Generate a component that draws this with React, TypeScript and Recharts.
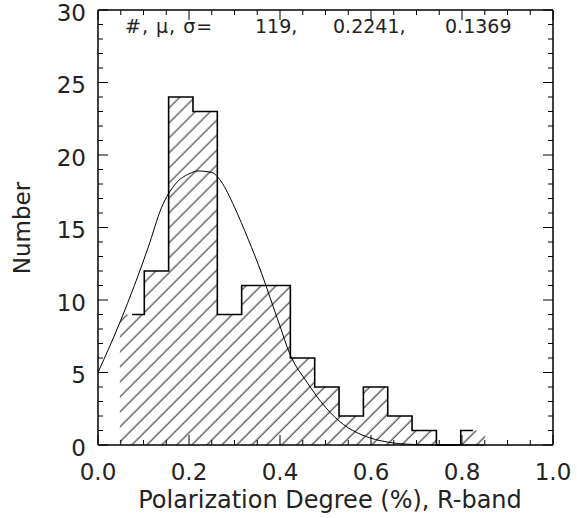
import React from "react";
import { ComposedChart, Area, Line, XAxis, YAxis } from "recharts";

// histogram bins (left edges + final right edge) and counts
const binEdges = [0.048, 0.102, 0.155, 0.209, 0.262, 0.316, 0.369, 0.423, 0.476, 0.53, 0.583, 0.637, 0.69, 0.744, 0.797, 0.851];
const binCounts = [9, 12, 24, 23, 9, 11, 11, 6, 4, 2, 4, 2, 1, 0, 1];

// gaussian fit
const fitX = [0.0, 0.05, 0.08, 0.11, 0.14, 0.17, 0.2, 0.22, 0.25, 0.27, 0.3, 0.33, 0.36, 0.38, 0.4, 0.42, 0.46, 0.5, 0.54, 0.58, 0.62, 0.66, 0.7, 0.75, 0.85];
const fitY = [5.0, 8.6, 11.0, 13.6, 16.4, 18.0, 18.7, 18.9, 18.8, 18.2, 16.4, 14.2, 11.8, 10.0, 8.2, 6.4, 4.3, 2.6, 1.4, 0.7, 0.3, 0.1, 0.03, 0.0, 0.0];

const xTicks = [0, 0.05, 0.1, 0.15, 0.2, 0.25, 0.3, 0.35, 0.4, 0.45, 0.5, 0.55, 0.6, 0.65, 0.7, 0.75, 0.8, 0.85, 0.9, 0.95, 1.0];
const yTicks = [0, 1, 2, 3, 4, 5, 6, 7, 8, 9, 10, 11, 12, 13, 14, 15, 16, 17, 18, 19, 20, 21, 22, 23, 24, 25, 26, 27, 28, 29, 30];

const statLabel = "#, \u03bc, \u03c3=";
const statValues = ["119,", "0.2241,", "0.1369"];

const FONT = "'DejaVu Sans', sans-serif";
const INK = "#222";

const fillData = binEdges.map((e, i) => ({ x: e, n: binCounts[Math.min(i, binCounts.length - 1)] }));
const outlineData = binCounts.map((n, i) => ({ x: (binEdges[i] + binEdges[i + 1]) / 2, n }));
const fitData = fitX.map((x, i) => ({ x, y: fitY[i] }));

const isMajorX = (v: number) => Math.abs(v * 5 - Math.round(v * 5)) < 1e-6;
const isMajorY = (v: number) => v % 5 === 0;

const BottomTick = ({ x, y, payload }: any) => {
  const major = isMajorX(payload.value);
  return (
    <g>
      <line x1={x} x2={x} y1={y} y2={y - (major ? 10 : 5)} stroke="#000" />
      {major && (
        <text x={x} y={y + 35} textAnchor="middle" fontSize={23} fontFamily={FONT} fill={INK}>
          {payload.value.toFixed(1)}
        </text>
      )}
    </g>
  );
};

const TopTick = ({ x, y, payload }: any) => {
  const major = isMajorX(payload.value);
  return <line x1={x} x2={x} y1={y} y2={y + (major ? 10 : 5)} stroke="#000" />;
};

const LeftTick = ({ x, y, payload }: any) => {
  const major = isMajorY(payload.value);
  return (
    <g>
      <line x1={x} x2={x + (major ? 10 : 5)} y1={y} y2={y} stroke="#000" />
      {major && (
        <text x={x - 12} y={y + 4} textAnchor="end" dominantBaseline="middle" fontSize={23} fontFamily={FONT} fill={INK}>
          {payload.value}
        </text>
      )}
    </g>
  );
};

const RightTick = ({ x, y, payload }: any) => {
  const major = isMajorY(payload.value);
  return <line x1={x} x2={x - (major ? 10 : 5)} y1={y} y2={y} stroke="#000" />;
};

export default function App() {
  return (
    <div style={{ position: "absolute", left: 0, top: 0, background: "#fff" }}>
      <ComposedChart width={577} height={518} margin={{ top: 9, right: 23, bottom: 13, left: 38 }}>
        <defs>
          <pattern id="hatch" patternUnits="userSpaceOnUse" width={10.6} height={10.6} patternTransform="rotate(45)">
            <line x1={5} y1={0} x2={5} y2={10.6} stroke="#222" strokeWidth={1} />
          </pattern>
        </defs>

        <XAxis
          xAxisId="bottom"
          type="number"
          dataKey="x"
          domain={[0, 1]}
          ticks={xTicks}
          interval={0}
          height={60}
          tickSize={0}
          tickMargin={0}
          tickLine={false}
          tick={<BottomTick />}
          axisLine={{ stroke: "#000", strokeWidth: 1.5 }}
        />
        <XAxis
          xAxisId="top"
          orientation="top"
          type="number"
          dataKey="x"
          domain={[0, 1]}
          ticks={xTicks}
          interval={0}
          height={1}
          tickSize={0}
          tickMargin={0}
          tickLine={false}
          tick={<TopTick />}
          axisLine={{ stroke: "#000", strokeWidth: 1.5 }}
        />
        <YAxis
          yAxisId="left"
          type="number"
          domain={[0, 30]}
          ticks={yTicks}
          interval={0}
          width={60}
          tickSize={0}
          tickMargin={0}
          tickLine={false}
          tick={<LeftTick />}
          axisLine={{ stroke: "#000", strokeWidth: 1.5 }}
        />
        <YAxis
          yAxisId="right"
          orientation="right"
          type="number"
          domain={[0, 30]}
          ticks={yTicks}
          interval={0}
          width={1}
          tickSize={0}
          tickMargin={0}
          tickLine={false}
          tick={<RightTick />}
          axisLine={{ stroke: "#000", strokeWidth: 1.5 }}
        />

        <Area
          data={fillData}
          xAxisId="bottom"
          yAxisId="left"
          dataKey="n"
          type="stepAfter"
          stroke="none"
          fill="url(#hatch)"
          fillOpacity={1}
          isAnimationActive={false}
        />
        <Line
          data={outlineData}
          xAxisId="bottom"
          yAxisId="left"
          dataKey="n"
          type="step"
          stroke="#000"
          strokeWidth={1.6}
          dot={false}
          isAnimationActive={false}
        />
        <Line
          data={fitData}
          xAxisId="top"
          yAxisId="right"
          dataKey="y"
          type="monotone"
          stroke="#000"
          strokeWidth={1}
          dot={false}
          isAnimationActive={false}
        />

        <text x={125} y={33} fontSize={19} fontFamily={FONT} fill={INK} letterSpacing={1}>{statLabel}</text>
        <text x={255} y={33} fontSize={19} fontFamily={FONT} fill={INK}>{statValues[0]}</text>
        <text x={333} y={33} fontSize={19} fontFamily={FONT} fill={INK}>{statValues[1]}</text>
        <text x={445} y={33} fontSize={19} fontFamily={FONT} fill={INK}>{statValues[2]}</text>

        <text x={330} y={508} textAnchor="middle" fontSize={24} fontFamily={FONT} fill={INK}>
          Polarization Degree (%), R-band
        </text>
        <text x={30} y={228} transform="rotate(-90, 30, 228)" textAnchor="middle" fontSize={23} fontFamily={FONT} fill={INK}>
          Number
        </text>
      </ComposedChart>
    </div>
  );
}
